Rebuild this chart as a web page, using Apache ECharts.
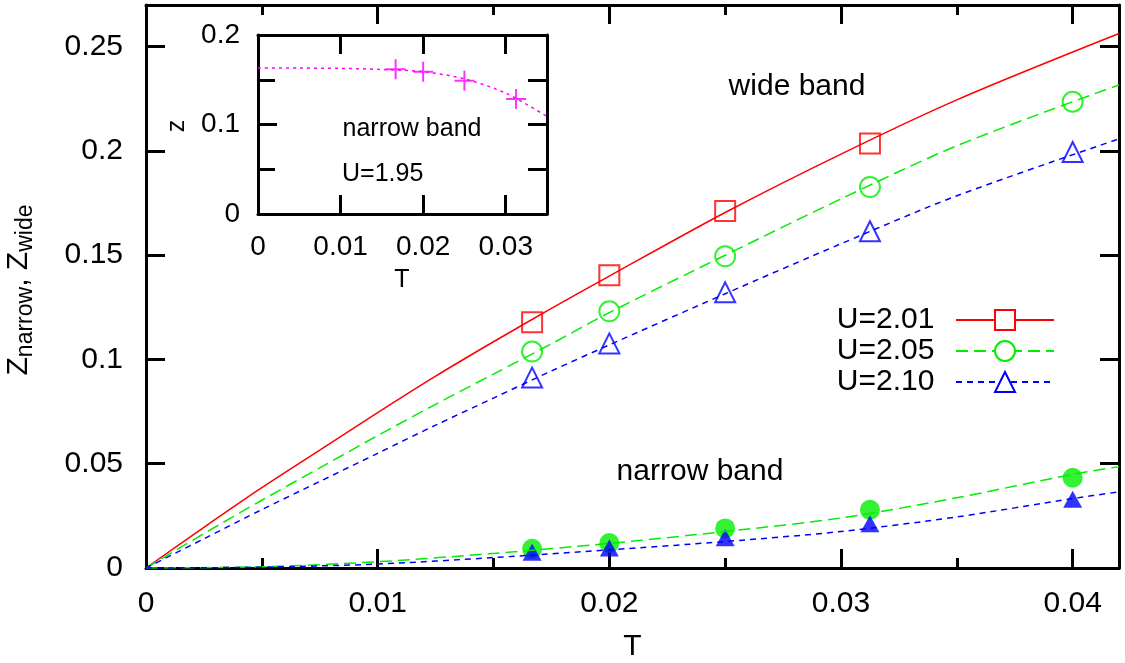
<!DOCTYPE html>
<html>
<head>
<meta charset="utf-8">
<title>Z narrow / Z wide vs T</title>
<script src="https://cdn.jsdelivr.net/npm/echarts@6/dist/echarts.min.js"></script>
<style>
  html, body { margin: 0; padding: 0; background: #fff; }
  #chart { width: 1125px; height: 663px; }
</style>
</head>
<body>
<div id="chart"></div>
<script>
// simulation temperatures
const tPoints = [1 / 60, 0.02, 0.025, 0.03125, 0.04]

// wide band, data points
const wide201 = [0.1178, 0.1404, 0.1712, 0.2036]
const wide205 = [0.1038, 0.1231, 0.1495, 0.1827, 0.2236]
const wide210 = [0.0913, 0.1077, 0.1322, 0.1615, 0.1995]

// wide band, fit curves (at tFit)
const tFit = [0, 0.0025, 0.005, 0.0075, 0.01, 0.0125, 0.015, 0.0175, 0.02, 0.025, 0.03, 0.035, 0.042]
const wideFit201 = [0, 0.0195, 0.0385, 0.0565, 0.0745, 0.092, 0.1085, 0.1245, 0.140, 0.1705, 0.1985, 0.2245, 0.2563]
const wideFit205 = [0, 0.0165, 0.0325, 0.048, 0.0635, 0.0785, 0.093, 0.1075, 0.1225, 0.150, 0.177, 0.2025, 0.2317]
const wideFit210 = [0, 0.014, 0.028, 0.0415, 0.055, 0.0685, 0.0815, 0.0945, 0.107, 0.1315, 0.1555, 0.1785, 0.2058]

// narrow band, data points
const narrow205 = [0.0092, 0.012, 0.019, 0.0279, 0.0433]
const narrow210 = [0.0075, 0.0096, 0.0145, 0.0212, 0.033]

// narrow band, fit curves
const tNarrowFit = [0, 0.005, 0.01, 0.015, 0.02, 0.025, 0.03, 0.035, 0.04, 0.042]
const narrowFit205 = [0, 0.0006, 0.003, 0.007, 0.0118, 0.0175, 0.024, 0.0337, 0.0449, 0.0486]
const narrowFit210 = [0, 0.0004, 0.0019, 0.005, 0.0087, 0.0127, 0.0175, 0.0245, 0.0333, 0.0365]

// inset: narrow band, U=1.95
const tInset = [1 / 60, 0.02, 0.025, 0.03125]
const inset195 = [0.1617, 0.159, 0.149, 0.1285]
const tInsetFit = [0, 0.005, 0.01, 0.015, 0.02, 0.025, 0.03, 0.035]
const insetFit195 = [0.163, 0.163, 0.1627, 0.1615, 0.159, 0.151, 0.135, 0.109]

const font = "'Liberation Sans', Arial, sans-serif"
const zip = (xs, ys) => ys.map((y, i) => [xs[i], y])
const plus = 'path://M0,9H9V0H11V9H20V11H11V20H9V11H0Z'
const tickLine = { color: '#000', width: 3 }

function axis(opts) {
  return Object.assign({
    type: 'value',
    splitLine: { show: false },
    axisLine: { show: true, onZero: false, lineStyle: tickLine },
    axisTick: { show: true, inside: true, length: 19, lineStyle: tickLine },
    axisLabel: { show: false, color: '#000', fontFamily: font, fontSize: 30, showMaxLabel: false }
  }, opts)
}

// plot boxes
const grids = [
  { left: 146, top: 5, right: 6, bottom: 95, outerBoundsMode: 'none' },
  { left: 258, top: 35, right: 578, bottom: 449, outerBoundsMode: 'none' }
]
const xAxes = [
  axis({
    gridIndex: 0, position: 'bottom', min: 0, max: 0.042, interval: 0.01,
    minorTick: { show: true, splitNumber: 2, length: 10, lineStyle: tickLine },
    axisLabel: { show: true, color: '#000', fontFamily: font, fontSize: 30, margin: 21, showMaxLabel: false },
    name: 'T', nameLocation: 'middle', nameGap: 64,
    nameTextStyle: { color: '#000', fontFamily: font, fontSize: 30 }
  }),
  axis({ gridIndex: 0, position: 'top', min: 0, max: 0.042, interval: 0.01 }),
  axis({
    gridIndex: 1, position: 'bottom', min: 0, max: 0.035, interval: 0.01,
    axisLabel: { show: true, color: '#000', fontFamily: font, fontSize: 28, margin: 19, showMaxLabel: false }
  }),
  axis({ gridIndex: 1, position: 'top', min: 0, max: 0.035, interval: 0.01 })
]
const yAxes = [
  axis({
    gridIndex: 0, position: 'left', min: 0, max: 0.27, interval: 0.05,
    axisLabel: { show: true, color: '#000', fontFamily: font, fontSize: 30, margin: 23, showMaxLabel: false }
  }),
  axis({ gridIndex: 0, position: 'right', min: 0, max: 0.27, interval: 0.05 }),
  axis({
    gridIndex: 1, position: 'left', min: 0, max: 0.2, interval: 0.1,
    axisLabel: { show: true, color: '#000', fontFamily: font, fontSize: 28, margin: 18 }
  }),
  axis({ gridIndex: 1, position: 'right', min: 0, max: 0.2, interval: 0.05 })
]

// tick strips: thin grids along the frame whose split lines act as inward ticks
const hidden = { type: 'value', show: false, min: 0, max: 1 }
function stripAxis(min, max, interval, gridIndex) {
  return {
    type: 'value', gridIndex, min, max, interval,
    axisLine: { show: false }, axisTick: { show: false }, axisLabel: { show: false },
    splitLine: { show: true, lineStyle: tickLine }
  }
}
function xStrip(box, min, max, interval) {
  const g = grids.push(Object.assign({ outerBoundsMode: 'none' }, box)) - 1
  xAxes.push(stripAxis(min, max, interval, g))
  yAxes.push(Object.assign({ gridIndex: g }, hidden))
}
function yStrip(box, min, max, interval) {
  const g = grids.push(Object.assign({ outerBoundsMode: 'none' }, box)) - 1
  yAxes.push(stripAxis(min, max, interval, g))
  xAxes.push(Object.assign({ gridIndex: g }, hidden))
}
xStrip({ left: 146, right: 6, bottom: 95, height: 19 }, 0, 0.042, 0.01)
xStrip({ left: 146, right: 6, bottom: 95, height: 10 }, 0, 0.042, 0.005)
xStrip({ left: 146, right: 6, top: 5, height: 19 }, 0, 0.042, 0.01)
xStrip({ left: 146, right: 6, top: 5, height: 10 }, 0, 0.042, 0.005)
yStrip({ left: 146, width: 19, top: 5, bottom: 95 }, 0, 0.27, 0.05)
yStrip({ right: 6, width: 19, top: 5, bottom: 95 }, 0, 0.27, 0.05)
xStrip({ left: 258, right: 578, bottom: 449, height: 16 }, 0, 0.035, 0.01)
xStrip({ left: 258, right: 578, top: 35, height: 16 }, 0, 0.035, 0.01)
yStrip({ left: 258, width: 17, top: 35, bottom: 449 }, 0, 0.2, 0.05)
yStrip({ right: 578, width: 17, top: 35, bottom: 449 }, 0, 0.2, 0.05)

const chart = echarts.init(document.getElementById('chart'))
chart.setOption({
  backgroundColor: '#fff',
  animation: false,
  textStyle: { fontFamily: font },
  grid: grids,
  xAxis: xAxes,
  yAxis: yAxes,
  legend: {
    data: ['U=2.01', 'U=2.05', 'U=2.10'],
    orient: 'vertical',
    align: 'right',
    right: 70,
    top: 305,
    padding: 0,
    itemWidth: 98,
    itemHeight: 25,
    itemGap: 1,
    selectedMode: false,
    formatter: name => name + '  ',
    textStyle: { color: '#000', fontFamily: font, fontSize: 30, lineHeight: 25 }
  },
  graphic: [
    {
      type: 'text', x: 19, y: 290, rotation: Math.PI / 2,
      style: {
        text: '{z|Z}{s|narrow}{z|, Z}{s|wide}',
        align: 'center', verticalAlign: 'middle',
        rich: {
          z: { fontFamily: font, fontSize: 30, lineHeight: 36, fill: '#000' },
          s: { fontFamily: font, fontSize: 23, lineHeight: 23, verticalAlign: 'bottom', fill: '#000' }
        }
      }
    },
    { type: 'text', x: 177, y: 126, rotation: Math.PI / 2, style: { text: 'z', font: '25px ' + font, fill: '#000', align: 'center', verticalAlign: 'middle' } },
    { type: 'text', x: 402, y: 280, style: { text: 'T', font: '25px ' + font, fill: '#000', align: 'center', verticalAlign: 'middle' } },
    { type: 'text', x: 797, y: 87, style: { text: 'wide band', font: '30px ' + font, fill: '#000', align: 'center', verticalAlign: 'middle' } },
    { type: 'text', x: 700, y: 472, style: { text: 'narrow band', font: '30px ' + font, fill: '#000', align: 'center', verticalAlign: 'middle' } },
    { type: 'text', x: 412, y: 129, style: { text: 'narrow band', font: '25px ' + font, fill: '#000', align: 'center', verticalAlign: 'middle' } },
    { type: 'text', x: 342, y: 174, style: { text: 'U=1.95', font: '25px ' + font, fill: '#000', align: 'left', verticalAlign: 'middle' } }
  ],
  series: [
    // wide band fits
    {
      name: 'U=2.01', type: 'line', xAxisIndex: 0, yAxisIndex: 0, data: zip(tFit, wideFit201),
      smooth: 0.3, showSymbol: false, symbol: 'emptyRect', color: '#ff0000',
      lineStyle: { color: '#ff0000', width: 1.5 }
    },
    {
      name: 'U=2.05', type: 'line', xAxisIndex: 0, yAxisIndex: 0, data: zip(tFit, wideFit205),
      smooth: 0.3, showSymbol: false, symbol: 'emptyCircle', color: '#00ee00',
      lineStyle: { color: '#00ee00', width: 1.5, type: [12, 6] }
    },
    {
      name: 'U=2.10', type: 'line', xAxisIndex: 0, yAxisIndex: 0, data: zip(tFit, wideFit210),
      smooth: 0.3, showSymbol: false, symbol: 'emptyTriangle', color: '#0000ff',
      lineStyle: { color: '#0000ff', width: 1.5, type: [6, 5] }
    },
    // wide band points
    {
      name: 'U=2.01', type: 'scatter', xAxisIndex: 0, yAxisIndex: 0, data: zip(tPoints, wide201),
      symbol: 'emptyRect', symbolSize: 20, itemStyle: { color: '#ff0000', borderWidth: 1.5 }
    },
    {
      name: 'U=2.05', type: 'scatter', xAxisIndex: 0, yAxisIndex: 0, data: zip(tPoints, wide205),
      symbol: 'emptyCircle', symbolSize: 20, itemStyle: { color: '#00ee00', borderWidth: 1.5 }
    },
    {
      name: 'U=2.10', type: 'scatter', xAxisIndex: 0, yAxisIndex: 0, data: zip(tPoints, wide210),
      symbol: 'emptyTriangle', symbolSize: 20, itemStyle: { color: '#0000ff', borderWidth: 1.5 }
    },
    // narrow band
    {
      name: 'narrow U=2.05', type: 'line', xAxisIndex: 0, yAxisIndex: 0, data: zip(tNarrowFit, narrowFit205),
      smooth: 0.3, showSymbol: false, lineStyle: { color: '#00ee00', width: 1.5, type: [12, 6] }
    },
    {
      name: 'narrow U=2.10', type: 'line', xAxisIndex: 0, yAxisIndex: 0, data: zip(tNarrowFit, narrowFit210),
      smooth: 0.3, showSymbol: false, lineStyle: { color: '#0000ff', width: 1.5, type: [6, 5] }
    },
    {
      name: 'narrow pts U=2.05', type: 'scatter', xAxisIndex: 0, yAxisIndex: 0, data: zip(tPoints, narrow205),
      symbol: 'circle', symbolSize: 20, itemStyle: { color: '#00ee00' }
    },
    {
      name: 'narrow pts U=2.10', type: 'scatter', xAxisIndex: 0, yAxisIndex: 0, data: zip(tPoints, narrow210),
      symbol: 'triangle', symbolSize: [19, 17], itemStyle: { color: '#0000ff' }
    },
    // inset
    {
      name: 'inset fit', type: 'line', xAxisIndex: 2, yAxisIndex: 2, data: zip(tInsetFit, insetFit195),
      smooth: 0.3, showSymbol: false, lineStyle: { color: '#ff00ff', width: 1.5, type: [3, 4] }
    },
    {
      name: 'inset pts', type: 'scatter', xAxisIndex: 2, yAxisIndex: 2, data: zip(tInset, inset195),
      symbol: plus, symbolSize: 20, itemStyle: { color: '#ff00ff' }
    }
  ]
})
</script>
</body>
</html>
